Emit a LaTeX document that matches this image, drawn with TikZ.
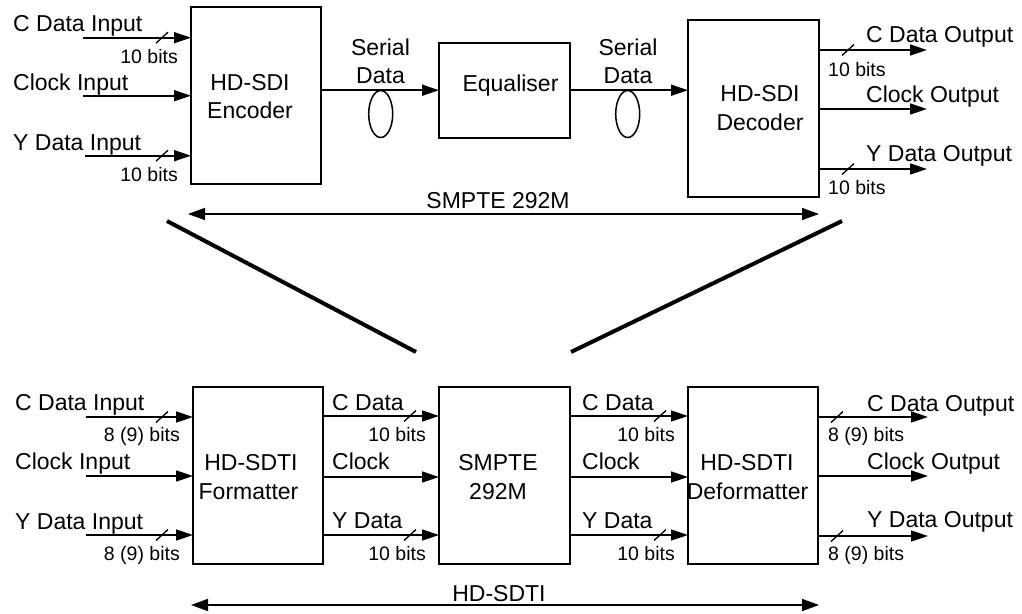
\documentclass[tikz,border=0pt]{standalone}
\usepackage{fontspec}
\setmainfont{Liberation Sans}
\usetikzlibrary{arrows.meta}
\newcommand\bigtxt{\fontsize{23}{27}\selectfont}
\newcommand\smalltxt{\fontsize{19.5}{23}\selectfont}
\begin{document}
\begin{tikzpicture}[x=1pt,y=-1pt,
  blk/.style={draw,line width=1.6pt,inner sep=0pt,outer sep=0pt},
  conn/.style={line width=1.6pt,-{Triangle[length=17pt,width=11pt]}},
  dim/.style={line width=1.5pt,{Triangle[length=17pt,width=12pt]}-{Triangle[length=17pt,width=12pt]}},
  diag/.style={line width=4pt},
  busln/.style={line width=1.3pt},
  lbl/.style={inner sep=0pt,font=\bigtxt},
  sml/.style={inner sep=0pt,font=\smalltxt}]
\useasboundingbox (0,0) rectangle (1022,613);
\fill[white] (0,0) rectangle (1022,613);

% ---------- top: SMPTE 292M ----------
\node[blk,minimum width=130pt,minimum height=177pt] (enc) at (256,95.5) {};
\node[blk,minimum width=131pt,minimum height=95pt] (equ) at (504.5,90.2) {};
\node[blk,minimum width=131pt,minimum height=177pt] (dec) at (753.5,108.5) {};

\node[lbl,anchor=base] (encA) at (250,90) {HD-SDI};
\node[lbl,anchor=base] (encB) at (250,118.3) {Encoder};
\node[lbl,anchor=base] (equA) at (510.5,91) {Equaliser};
\node[lbl,anchor=base] (decA) at (760,101.7) {HD-SDI};
\node[lbl,anchor=base] (decB) at (760,130) {Decoder};

\coordinate (ti1) at (83,37.7);
\coordinate (ti2) at (83,95.7);
\coordinate (ti3) at (85,155.7);
\draw[conn] (ti1) -- (ti1 -| enc.west);
\draw[conn] (ti2) -- (ti2 -| enc.west);
\draw[conn] (ti3) -- (ti3 -| enc.west);
\draw[busln] (156,43.2) -- ++(12,-11);
\draw[busln] (156,161.2) -- ++(12,-11);
\node[lbl,anchor=base west] (tl1) at (13,31.5) {C Data Input};
\node[lbl,anchor=base west] (tl2) at (13,90.7) {Clock Input};
\node[lbl,anchor=base west] (tl3) at (13,150) {Y Data Input};
\node[sml,anchor=base east] (tb1) at (178,63.3) {10 bits};
\node[sml,anchor=base east] (tb2) at (178,181.7) {10 bits};

\draw[conn] (enc.east |- equ.west) -- (equ.west);
\draw[conn] (equ.east) -- (equ.east -| dec.west);
\draw[line width=1.5pt] (380.7,114) ellipse [x radius=12pt,y radius=23.5pt];
\draw[line width=1.5pt] (627.7,114) ellipse [x radius=12pt,y radius=23.5pt];
\node[lbl,anchor=base] (sd1a) at (380.5,55) {Serial};
\node[lbl,anchor=base] (sd1b) at (380.5,83.3) {Data};
\node[lbl,anchor=base] (sd2a) at (628,55) {Serial};
\node[lbl,anchor=base] (sd2b) at (628,83.3) {Data};

\coordinate (to1) at (927,50);
\coordinate (to2) at (927,109);
\coordinate (to3) at (927,169);
\draw[conn] (to1 -| dec.east) -- (to1);
\draw[conn] (to2 -| dec.east) -- (to2);
\draw[conn] (to3 -| dec.east) -- (to3);
\draw[busln] (842,55.5) -- ++(12,-11);
\draw[busln] (842,174.5) -- ++(12,-11);
\node[lbl,anchor=base west] (tr1) at (866,42.7) {C Data Output};
\node[lbl,anchor=base west] (tr2) at (866,102.7) {Clock Output};
\node[lbl,anchor=base west] (tr3) at (866,161.7) {Y Data Output};
\node[sml,anchor=base west] (trb1) at (828,76.7) {10 bits};
\node[sml,anchor=base west] (trb2) at (828,194.3) {10 bits};

\coordinate (s1) at (188,214);
\coordinate (s2) at (819,214);
\draw[dim] (s1) -- (s2);
\node[lbl,anchor=base] (smpte) at (498,208) {SMPTE 292M};

% ---------- expansion lines ----------
\coordinate (d1a) at (167,221);
\coordinate (d1b) at (416,352);
\coordinate (d2a) at (842,221);
\coordinate (d2b) at (571,352);
\draw[diag] (d1a) -- (d1b);
\draw[diag] (d2a) -- (d2b);

% ---------- bottom: HD-SDTI ----------
\node[blk,minimum width=130pt,minimum height=177pt] (fmt) at (258,475.5) {};
\node[blk,minimum width=131pt,minimum height=177pt] (smp) at (504.5,475.5) {};
\node[blk,minimum width=130pt,minimum height=177pt] (dfm) at (753,475.5) {};

\node[lbl,anchor=base] (fmtA) at (251,470.7) {HD-SDTI};
\node[lbl,anchor=base] (fmtB) at (248.5,499) {Formatter};
\node[lbl,anchor=base] (smpA) at (498,470) {SMPTE};
\node[lbl,anchor=base] (smpB) at (498,499) {292M};
\node[lbl,anchor=base] (dfmA) at (747,470.7) {HD-SDTI};
\node[lbl,anchor=base] (dfmB) at (747.5,499) {Deformatter};

\coordinate (bi1) at (86,417);
\coordinate (bi2) at (86,476);
\coordinate (bi3) at (86,535);
\draw[conn] (bi1) -- (bi1 -| fmt.west);
\draw[conn] (bi2) -- (bi2 -| fmt.west);
\draw[conn] (bi3) -- (bi3 -| fmt.west);
\draw[busln] (156,422.5) -- ++(12,-11);
\draw[busln] (156,540.5) -- ++(12,-11);
\node[lbl,anchor=base west] (bl1) at (15,410.7) {C Data Input};
\node[lbl,anchor=base west] (bl2) at (15,469.3) {Clock Input};
\node[lbl,anchor=base west] (bl3) at (15,529) {Y Data Input};
\node[sml,anchor=base east] (bb1) at (180,441.7) {8 (9) bits};
\node[sml,anchor=base east] (bb2) at (180,560) {8 (9) bits};

\coordinate (m1) at (0,416);
\coordinate (m2) at (0,477);
\coordinate (m3) at (0,535);
\draw[conn] (m1 -| fmt.east) -- (m1 -| smp.west);
\draw[conn] (m2 -| fmt.east) -- (m2 -| smp.west);
\draw[conn] (m3 -| fmt.east) -- (m3 -| smp.west);
\draw[busln] (404,421.5) -- ++(12,-11);
\draw[busln] (404,540.5) -- ++(12,-11);
\node[lbl,anchor=base west] (ml1) at (332,410) {C Data};
\node[lbl,anchor=base west] (ml2) at (332,469.3) {Clock};
\node[lbl,anchor=base west] (ml3) at (332,528.3) {Y Data};
\node[sml,anchor=base east] (mb1) at (426,441.7) {10 bits};
\node[sml,anchor=base east] (mb2) at (426,560) {10 bits};

\draw[conn] (m1 -| smp.east) -- (m1 -| dfm.west);
\draw[conn] (m2 -| smp.east) -- (m2 -| dfm.west);
\draw[conn] (m3 -| smp.east) -- (m3 -| dfm.west);
\draw[busln] (654,421.5) -- ++(12,-11);
\draw[busln] (654,540.5) -- ++(12,-11);
\node[lbl,anchor=base west] (nl1) at (582,410.7) {C Data};
\node[lbl,anchor=base west] (nl2) at (582,469.3) {Clock};
\node[lbl,anchor=base west] (nl3) at (582,528.3) {Y Data};
\node[sml,anchor=base east] (nb1) at (675,441.7) {10 bits};
\node[sml,anchor=base east] (nb2) at (675,560) {10 bits};

\coordinate (bo1) at (928,417);
\coordinate (bo2) at (928,476);
\coordinate (bo3) at (928,536);
\draw[conn] (bo1 -| dfm.east) -- (bo1);
\draw[conn] (bo2 -| dfm.east) -- (bo2);
\draw[conn] (bo3 -| dfm.east) -- (bo3);
\draw[busln] (831,422.5) -- ++(12,-11);
\draw[busln] (831,541.5) -- ++(12,-11);
\node[lbl,anchor=base west] (br1) at (867,411.7) {C Data Output};
\node[lbl,anchor=base west] (br2) at (867,469.3) {Clock Output};
\node[lbl,anchor=base west] (br3) at (867,527.3) {Y Data Output};
\node[sml,anchor=base west] (brb1) at (828,441.7) {8 (9) bits};
\node[sml,anchor=base west] (brb2) at (828,560) {8 (9) bits};

\coordinate (h1) at (191,605);
\coordinate (h2) at (819,605);
\draw[dim] (h1) -- (h2);
\node[lbl,anchor=base] (hdsdti) at (499,601.7) {HD-SDTI};
\end{tikzpicture}
\end{document}
